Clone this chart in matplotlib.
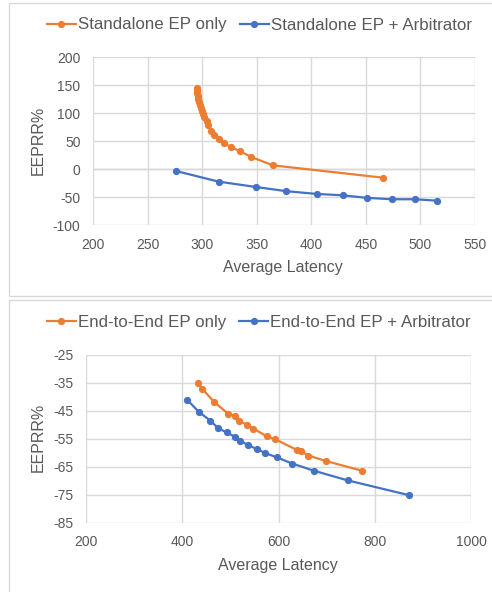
import matplotlib
matplotlib.use("Agg")
import matplotlib.pyplot as plt
from matplotlib.patches import Rectangle

plt.rcParams['font.family'] = ['Liberation Sans', 'DejaVu Sans']
plt.rcParams['axes.unicode_minus'] = False

# ---- data: top panel (Standalone) ----
sa_only_x = [295, 295, 295.5, 296, 296.5, 297, 298, 299, 300, 301, 302, 304, 305,
             308, 311, 315, 320, 326, 335, 345, 365, 466]
sa_only_y = [146, 141, 136, 131, 126, 121, 115, 110, 104, 98, 93, 86, 80,
             69, 61, 54, 47, 40, 32, 22, 7, -15]
sa_arb_x = [276, 315, 349, 377, 405, 429, 451, 474, 495, 515]
sa_arb_y = [-3, -22, -31.5, -39, -44, -46.5, -51, -53.5, -53.5, -56]

# ---- data: bottom panel (End-to-End) ----
e2e_only_x = [432, 441, 467, 495, 509, 517, 534, 548, 576, 593, 638, 647, 662, 699, 773]
e2e_only_y = [-35.2, -37.1, -42, -46, -46.9, -48.5, -50, -51.4, -54.2, -55.2,
              -59, -59.5, -61, -63, -66.4]
e2e_arb_x = [410, 435, 458, 475, 492, 509, 520, 537, 555, 572, 597, 629, 673, 744, 872]
e2e_arb_y = [-41.1, -45.5, -48.5, -51.3, -52.7, -54.3, -55.7, -57.3, -58.7, -60.1,
             -61.7, -63.9, -66.4, -69.9, -75.2]

top_xticks = [200, 250, 300, 350, 400, 450, 500, 550]
top_yticks = [-100, -50, 0, 50, 100, 150, 200]
bot_xticks = [200, 400, 600, 800, 1000]
bot_yticks = [-85, -75, -65, -55, -45, -35, -25]

labels_top = ["Standalone EP only", "Standalone EP + Arbitrator"]
labels_bot = ["End-to-End EP only", "End-to-End EP + Arbitrator"]

ORANGE = "#ED7D31"
BLUE = "#4472C4"
TXT = "#595959"
GRID = "#D9D9D9"

W, H = 492, 592
fig = plt.figure(figsize=(W / 100, H / 100), dpi=100)

# panel borders
fig.patches.append(Rectangle((9 / W, 1 - 295.5 / H), 1.2, (295.5 - 2.7) / H,
                             transform=fig.transFigure, fill=False,
                             edgecolor=GRID, linewidth=1.0))
fig.patches.append(Rectangle((9 / W, -0.2), 1.2, 0.2 + 1 - 300 / H,
                             transform=fig.transFigure, fill=False,
                             edgecolor=GRID, linewidth=1.0))


def make_ax(rect, xs1, ys1, xs2, ys2, xticks, yticks, labels, legend_y,
            xl_coords, yl_coords, zero_line=None):
    ax = fig.add_axes(rect)
    l1, = ax.plot(xs1, ys1, color=ORANGE, lw=1.6, marker='o', ms=4.2,
                  label=labels[0])
    l2, = ax.plot(xs2, ys2, color=BLUE, lw=1.6, marker='o', ms=4.2,
                  label=labels[1])
    ax.set_xlim(xticks[0], xticks[-1])
    ax.set_ylim(yticks[0], yticks[-1])
    ax.set_xticks(xticks)
    ax.set_yticks(yticks)
    ax.grid(True, color=GRID, lw=1.0)
    ax.set_axisbelow(True)
    if zero_line is not None:
        ax.axhline(zero_line, color="#BFBFBF", lw=1.0, zorder=0.5)
    for s in ax.spines.values():
        s.set_visible(False)
    ax.tick_params(length=0, labelsize=10, colors=TXT, pad=9)
    ax.set_xlabel("Average Latency", fontsize=11.5, color=TXT, va='center')
    ax.set_ylabel("EEPRR%", fontsize=11.5, color=TXT, va='center')
    ax.xaxis.set_label_coords(*xl_coords)
    ax.yaxis.set_label_coords(*yl_coords)
    fig.legend(handles=[l1, l2], loc='center left',
               bbox_to_anchor=(40 / W, 1 - legend_y / H), ncol=2,
               frameon=False, fontsize=12.2, handlelength=1.7,
               handletextpad=0.12, columnspacing=0.8, borderaxespad=0,
               labelcolor=TXT)
    return ax


make_ax([93 / W, 1 - 225.3 / H, 382 / W, 168 / H],
        sa_only_x, sa_only_y, sa_arb_x, sa_arb_y,
        top_xticks, top_yticks, labels_top, 25,
        (0.497, -0.254), (-0.144, 0.508), zero_line=0)

make_ax([86 / W, 1 - 522.7 / H, 385 / W, 168 / H],
        e2e_only_x, e2e_only_y, e2e_arb_x, e2e_arb_y,
        bot_xticks, bot_yticks, labels_bot, 322,
        (0.499, -0.252), (-0.125, 0.51))

fig.savefig("out.png", dpi=100)
